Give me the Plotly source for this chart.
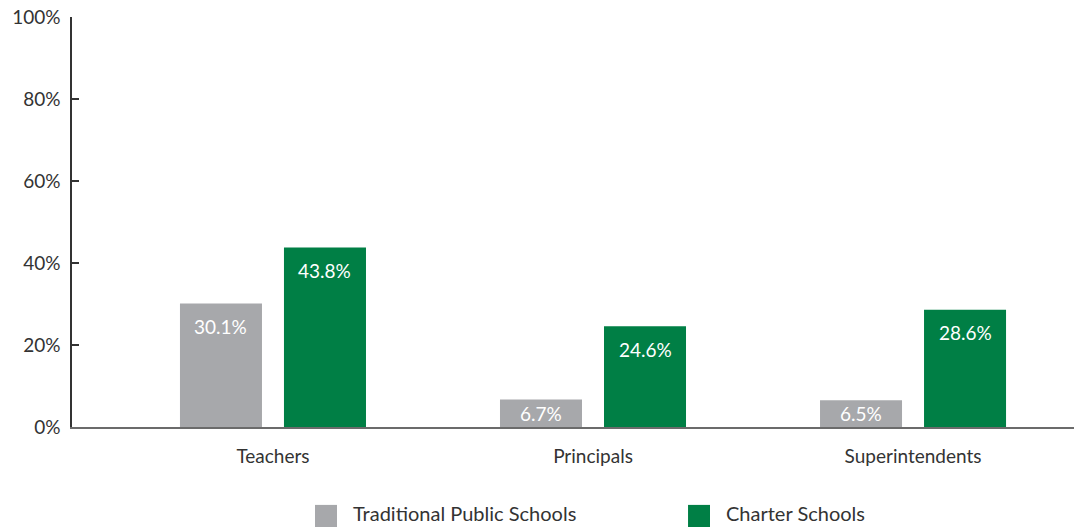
import plotly.graph_objects as go

categories = ["Teachers", "Principals", "Superintendents"]
traditional = [30.1, 6.7, 6.5]
charter = [43.8, 24.6, 28.6]
series_names = ["Traditional Public Schools", "Charter Schools"]
y_ticks = [0, 20, 40, 60, 80, 100]
y_tick_labels = ["0%", "20%", "40%", "60%", "80%", "100%"]

GRAY = "#A7A8AB"
GREEN = "#007F45"
FONT = "Lato, 'Open Sans', sans-serif"
TEXT = "#333333"

fig = go.Figure()
fig.add_trace(go.Bar(x=categories, y=traditional, name=series_names[0],
                     marker=dict(color=GRAY, line=dict(width=0)), showlegend=False))
fig.add_trace(go.Bar(x=categories, y=charter, name=series_names[1],
                     marker=dict(color=GREEN, line=dict(width=0)), showlegend=False))

# value labels inside the top of each bar
PX_PER_UNIT = 410 / 100
offset = 0.1625
annotations = []
for i, (a, b) in enumerate(zip(traditional, charter)):
    for x, v in ((i - offset, a), (i + offset, b)):
        shift = min(23, v * PX_PER_UNIT / 2)
        annotations.append(dict(x=x, y=v, xref="x", yref="y", text=f"{v:.1f}%",
                                showarrow=False, yanchor="middle", yshift=-shift,
                                font=dict(family=FONT, size=19, color="white")))

# legend drawn as swatches + labels
shapes = []
legend_items = [(0.2425, GRAY, series_names[0]), (0.6148, GREEN, series_names[1])]
for x0, col, label in legend_items:
    shapes.append(dict(type="rect", xref="paper", yref="paper",
                       x0=x0, x1=x0 + 22 / 1002, y0=-0.190, y1=-0.2439,
                       fillcolor=col, line=dict(width=0)))
    annotations.append(dict(x=x0 + 36 / 1002, y=-0.2439, xref="paper", yref="paper",
                            text=label, showarrow=False, xanchor="left", yanchor="bottom",
                            font=dict(family=FONT, size=20, color=TEXT)))

fig.update_layout(
    width=1074, height=527,
    margin=dict(l=72, r=0, t=17, b=100),
    plot_bgcolor="white", paper_bgcolor="white",
    barmode="group", bargap=0.35, bargroupgap=0.2115,
    font=dict(family=FONT, color=TEXT),
    shapes=shapes, annotations=annotations,
    xaxis=dict(range=[-0.628, 2.503], showline=True, linecolor="#6b6b6b", linewidth=2,
               ticks="", showgrid=False, zeroline=False,
               tickfont=dict(family=FONT, size=19, color=TEXT), ticklabelstandoff=11),
    yaxis=dict(range=[0, 100], tickvals=y_ticks, ticktext=y_tick_labels,
               showline=True, linecolor="#333333", linewidth=1.5,
               ticks="inside", ticklen=7, tickcolor="#333333", tickwidth=1.5,
               showgrid=False, zeroline=False,
               tickfont=dict(family=FONT, size=19, color=TEXT), ticklabelstandoff=6),
)

fig.write_html("out.html")
